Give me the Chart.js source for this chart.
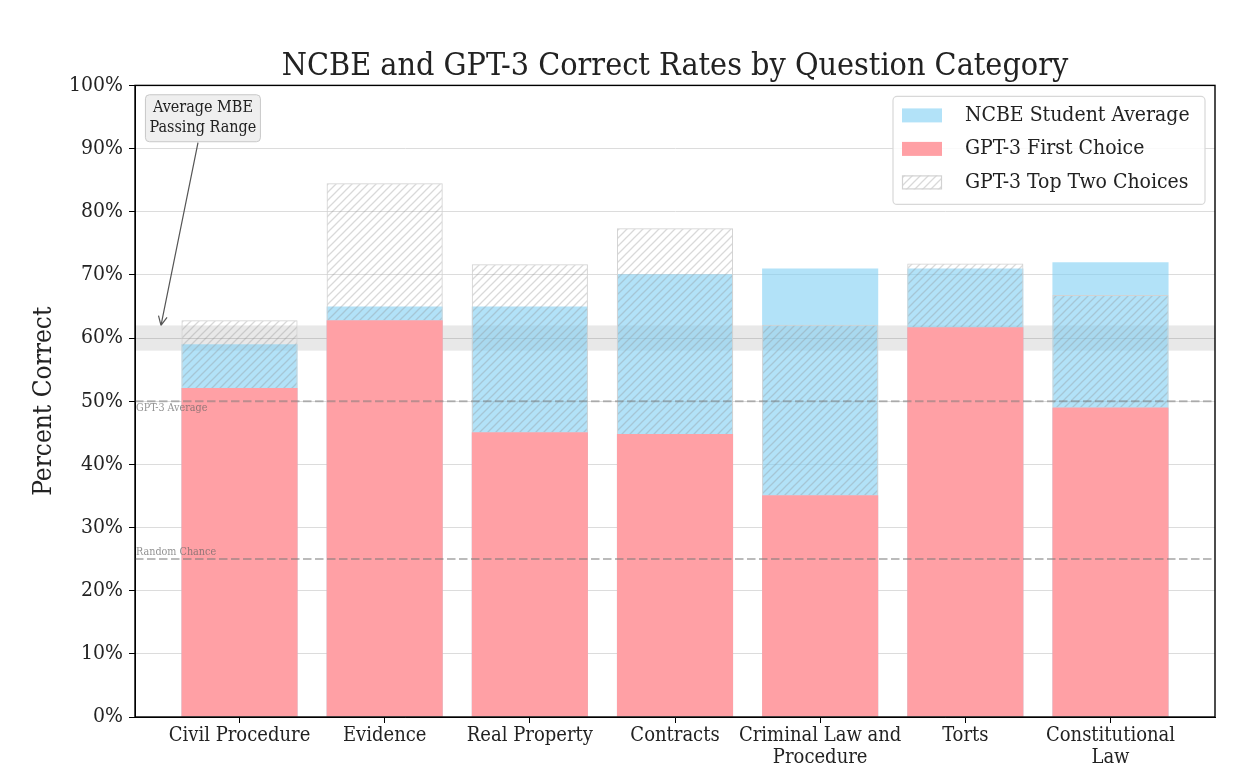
<!DOCTYPE html>
<html>
<head>
<meta charset="utf-8">
<script src="https://cdn.jsdelivr.net/npm/chart.js@4.4.1/dist/chart.umd.min.js"></script>
<style>
  html, body { margin: 0; padding: 0; background: #fff; }
  #wrap { width: 1244px; height: 782px; }
</style>
</head>
<body>
<div id="wrap"><canvas id="chart"></canvas></div>
<script>
const categories = ["Civil Procedure", "Evidence", "Real Property", "Contracts", ["Criminal Law and", "Procedure"], "Torts", ["Constitutional", "Law"]];
const ncbeAverage = [59.0, 65.0, 65.0, 70.1, 71.0, 71.0, 72.0];
const gptFirstChoice = [52.1, 62.8, 45.1, 44.8, 35.1, 61.7, 49.0];
const gptTopTwo = [62.8, 84.5, 71.7, 77.4, 62.1, 71.8, 66.8];
const yTicks = [0, 10, 20, 30, 40, 50, 60, 70, 80, 90, 100];
const passingRange = [58, 62];
const refLines = [
  { value: 50, label: "GPT-3 Average", below: true },
  { value: 25, label: "Random Chance", below: false },
];

const FONT = "'DejaVu Serif Condensed', 'DejaVu Serif', serif";
const TEXT = "#222";

function makeHatch() {
  const c = document.createElement("canvas");
  c.width = 8; c.height = 8;
  const g = c.getContext("2d");
  g.strokeStyle = "rgba(140,140,140,0.33)";
  g.lineWidth = 1.3;
  g.beginPath();
  g.moveTo(0, 8); g.lineTo(8, 0);
  g.moveTo(-2, 2); g.lineTo(2, -2);
  g.moveTo(6, 10); g.lineTo(10, 6);
  g.stroke();
  return g.createPattern(c, "repeat");
}
const hatch = makeHatch();

const toPoints = (arr) => arr.map((v, i) => ({ x: i, y: v }));
// red covers the lower part anyway, so the hatched bar only has to start at its top
const topTwoPoints = gptTopTwo.map((v, i) => ({ x: i, y: [gptFirstChoice[i], v] }));

// passing range band sits behind the bars
const bandPlugin = {
  id: "band",
  beforeDatasetsDraw(chart) {
    const { ctx, chartArea, scales } = chart;
    const y1 = scales.y.getPixelForValue(passingRange[1]);
    const y0 = scales.y.getPixelForValue(passingRange[0]);
    ctx.save();
    ctx.fillStyle = "rgba(0,0,0,0.09)";
    ctx.fillRect(chartArea.left, y1, chartArea.right - chartArea.left, y0 - y1);
    ctx.restore();
  },
};

const overlayPlugin = {
  id: "overlay",
  afterDatasetsDraw(chart) {
    const { ctx, chartArea, scales } = chart;
    const xs = scales.x, ys = scales.y;
    ctx.save();

    // dashed reference lines
    refLines.forEach((r) => {
      const y = ys.getPixelForValue(r.value);
      ctx.strokeStyle = "rgba(120,120,120,0.5)";
      ctx.lineWidth = 2;
      ctx.setLineDash([8.5, 3.5]);
      ctx.beginPath();
      ctx.moveTo(chartArea.left, y);
      ctx.lineTo(chartArea.right, y);
      ctx.stroke();
      ctx.setLineDash([]);
      ctx.fillStyle = "rgba(100,100,100,0.7)";
      ctx.font = "10.7px " + FONT;
      ctx.textAlign = "left";
      ctx.textBaseline = r.below ? "top" : "bottom";
      ctx.fillText(r.label, chartArea.left + 1, r.below ? y + 2 : y - 2);
    });

    // annotation box + arrow
    const bx = xs.getPixelForValue(-0.252), by = ys.getPixelForValue(94.8);
    ctx.font = "16px " + FONT;
    const lines = ["Average MBE", "Passing Range"];
    const w = 115, h = 47;
    ctx.beginPath();
    ctx.roundRect(bx - w / 2, by - h / 2, w, h, 4);
    ctx.fillStyle = "#efefef";
    ctx.fill();
    ctx.strokeStyle = "#c8c8c8";
    ctx.lineWidth = 1;
    ctx.stroke();
    ctx.fillStyle = TEXT;
    ctx.textAlign = "center";
    ctx.textBaseline = "middle";
    ctx.fillText(lines[0], bx, by - 10);
    ctx.fillText(lines[1], bx, by + 10);

    const ax0 = xs.getPixelForValue(-0.286), ay0 = by + h / 2 + 1;
    const ax1 = xs.getPixelForValue(-0.541), ay1 = ys.getPixelForValue(62);
    ctx.strokeStyle = "#555";
    ctx.lineWidth = 1.2;
    ctx.beginPath();
    ctx.moveTo(ax0, ay0);
    ctx.lineTo(ax1, ay1);
    const ang = Math.atan2(ay1 - ay0, ax1 - ax0);
    [0.45, -0.45].forEach((d) => {
      ctx.moveTo(ax1, ay1);
      ctx.lineTo(ax1 - 10 * Math.cos(ang + d), ay1 - 10 * Math.sin(ang + d));
    });
    ctx.stroke();

    // legend
    const lw = 312, lh = 108;
    const lx = chartArea.right - 10 - lw, ly = chartArea.top + 11;
    ctx.beginPath();
    ctx.roundRect(lx, ly, lw, lh, 4);
    ctx.fillStyle = "rgba(255,255,255,0.85)";
    ctx.fill();
    ctx.strokeStyle = "#d8d8d8";
    ctx.stroke();
    ctx.font = "21px " + FONT;
    ctx.textAlign = "left";
    ctx.textBaseline = "middle";
    chart.data.datasets.forEach((ds, i) => {
      const cy = ly + 19 + i * 33.5;
      ctx.fillStyle = ds.backgroundColor;
      ctx.fillRect(lx + 9, cy - 7, 40, 14);
      if (ds.borderWidth) {
        ctx.strokeStyle = ds.borderColor;
        ctx.strokeRect(lx + 9.5, cy - 6.5, 39, 13);
      }
      ctx.fillStyle = TEXT;
      ctx.fillText(ds.label, lx + 72, cy);
    });

    // frame
    ctx.strokeStyle = "#000";
    ctx.lineWidth = 1.4;
    ctx.strokeRect(chartArea.left, chartArea.top, chartArea.right - chartArea.left, chartArea.bottom - chartArea.top);
    ctx.restore();
  },
};

const ctx = document.getElementById("chart").getContext("2d");
new Chart(ctx, {
  type: "bar",
  data: {
    datasets: [
      { label: "NCBE Student Average", data: toPoints(ncbeAverage), backgroundColor: "rgba(127,207,243,0.6)", order: 2 },
      { label: "GPT-3 First Choice", data: toPoints(gptFirstChoice), backgroundColor: "#ffa0a5", order: 0 },
      { label: "GPT-3 Top Two Choices", data: topTwoPoints, backgroundColor: hatch, borderColor: "rgba(210,210,210,1)", borderWidth: 1, borderSkipped: "start", order: 1 },
    ],
  },
  options: {
    responsive: true,
    maintainAspectRatio: false,
    animation: false,
    layout: { padding: { left: 0, right: 29, top: 0, bottom: 0 } },
    datasets: { bar: { grouped: false, barPercentage: 0.8, categoryPercentage: 1 } },
    scales: {
      x: {
        type: "linear",
        offset: false,
        min: -0.72,
        max: 6.72,
        afterBuildTicks: (s) => { s.ticks = categories.map((c, i) => ({ value: i })); },
        afterFit: (s) => { s.height = 65; },
        ticks: {
          callback: (v) => categories[v],
          autoSkip: false,
          maxRotation: 0,
          padding: 2,
          color: TEXT,
          font: { family: FONT, size: 20, lineHeight: 1.1 },
        },
        grid: { offset: false, drawOnChartArea: false, tickLength: 6, tickColor: "#000" },
        border: { color: "#000" },
      },
      y: {
        min: 0,
        max: 100,
        afterBuildTicks: (s) => { s.ticks = yTicks.map((v) => ({ value: v })); },
        afterFit: (s) => { s.width = 135; },
        ticks: {
          callback: (v) => v + "%",
          padding: 6,
          color: TEXT,
          font: { family: FONT, size: 21 },
        },
        grid: { color: "#dcdcdc", tickColor: "#000", tickLength: 6 },
        border: { color: "#000" },
        title: {
          display: true,
          text: "Percent Correct",
          color: TEXT,
          font: { family: FONT, size: 26 },
          padding: { top: 29, bottom: 0 },
        },
      },
    },
    plugins: {
      legend: { display: false },
      tooltip: { enabled: false },
      title: {
        display: true,
        fullSize: false,
        text: "NCBE and GPT-3 Correct Rates by Question Category",
        color: TEXT,
        font: { family: FONT, size: 32, weight: "normal" },
        padding: { top: 47, bottom: 0 },
      },
    },
  },
  plugins: [bandPlugin, overlayPlugin],
});
</script>
</body>
</html>
